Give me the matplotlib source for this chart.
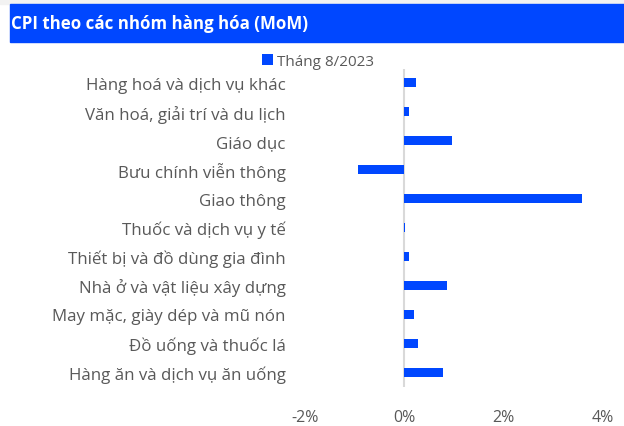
import matplotlib

matplotlib.use("Agg")
import matplotlib.pyplot as plt
from matplotlib.patches import Rectangle

# categories listed bottom -> top
categories = [
    "Hàng ăn và dịch vụ ăn uống",
    "Đồ uống và thuốc lá",
    "May mặc, giày dép và mũ nón",
    "Nhà ở và vật liệu xây dựng",
    "Thiết bị và đồ dùng gia đình",
    "Thuốc và dịch vụ y tế",
    "Giao thông",
    "Bưu chính viễn thông",
    "Giáo dục",
    "Văn hoá, giải trí và du lịch",
    "Hàng hoá và dịch vụ khác",
]
values = [0.78, 0.28, 0.19, 0.85, 0.10, 0.01, 3.57, -0.93, 0.95, 0.10, 0.23]
series_name = "Tháng 8/2023"
title = "CPI theo các nhóm hàng hóa (MoM)"
xticks = [-2, 0, 2, 4]

BLUE = "#0047FF"
GREY = "#595959"

plt.rcParams["font.family"] = ["Open Sans", "DejaVu Sans"]

fig = plt.figure(figsize=(6.24, 4.27), dpi=100)
W, H = 624, 427

# top strip and title band
fig.patches.append(Rectangle((0, 1 - 5 / H), 1, 5 / H, transform=fig.transFigure,
                             color="#F2F2F2", zorder=0))
fig.patches.append(Rectangle((10 / W, 1 - 43 / H), 1 - 10 / W, 38 / H,
                             transform=fig.transFigure, color=BLUE, zorder=0))
fig.text(11 / W, 1 - 24 / H, title, color="white", fontsize=12.2,
         fontweight="bold", va="center", ha="left")

ax = fig.add_axes([305 / W, 1 - 387.5 / H, (603 - 305) / W, (387.5 - 69.5) / H])
y = list(range(len(categories)))
ax.barh(y, values, height=0.31, color=BLUE, label=series_name, zorder=3)
ax.axvline(0, color="#D9D9D9", lw=1.5, zorder=2)

ax.set_xlim(-2, 4)
ax.set_ylim(-0.5, len(categories) - 0.5)
ax.set_xticks(xticks)
ax.set_xticklabels([f"{t}%" for t in xticks])
ax.set_yticks(y)
ax.set_yticklabels(categories)
ax.tick_params(axis="y", length=0, pad=14, labelsize=12.2, labelcolor=GREY)
ax.tick_params(axis="x", length=0, pad=16, labelsize=11.5, labelcolor=GREY)
for s in ax.spines.values():
    s.set_visible(False)

ax.legend(loc="upper left", bbox_to_anchor=(256 / W, 1 - 49 / H),
          bbox_transform=fig.transFigure, frameon=False, fontsize=11,
          handlelength=0.7, handleheight=0.7, handletextpad=0.3,
          labelcolor=GREY, borderaxespad=0)

fig.savefig("out.png", dpi=100)
